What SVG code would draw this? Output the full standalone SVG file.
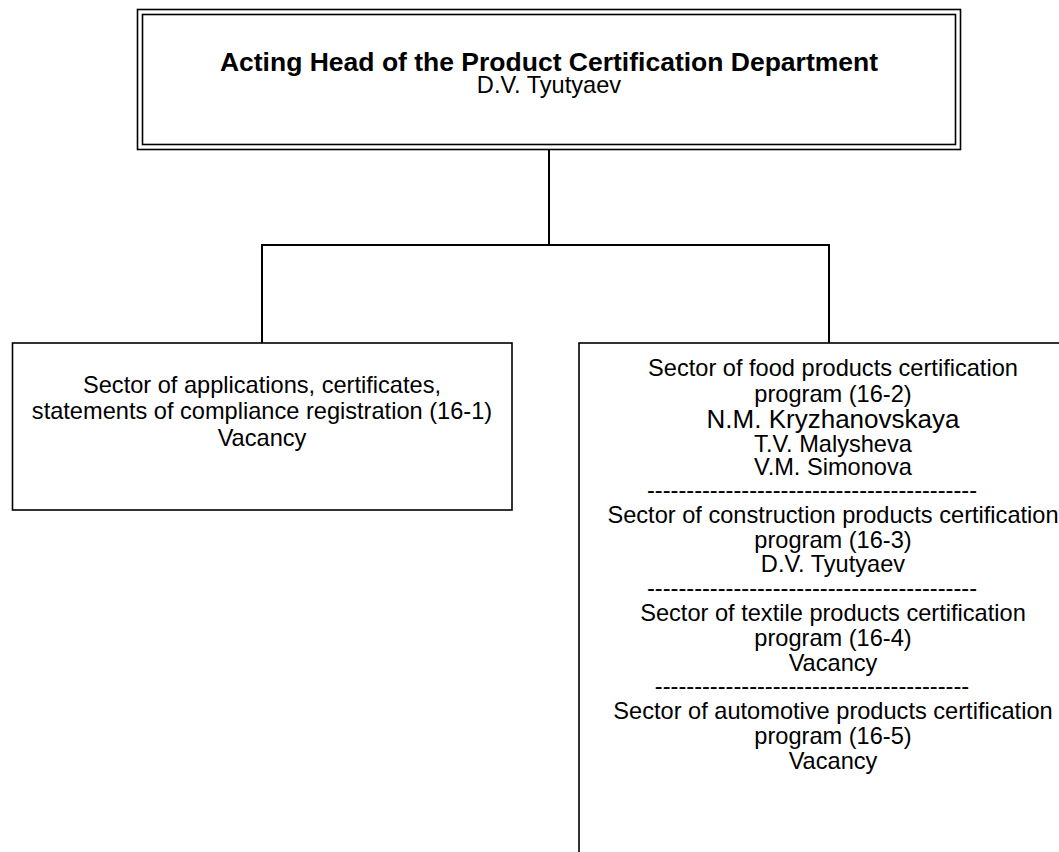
<svg xmlns="http://www.w3.org/2000/svg" width="1059" height="852" viewBox="0 0 1059 852">
<style>
.t{font-family:"Liberation Sans",Arial,sans-serif;font-size:23.6px;fill:#000;text-anchor:middle}
.b{font-weight:bold;font-size:26.5px}
.big{font-size:26px}
.box{fill:#fff;stroke:#000;stroke-width:1.6}
.con{fill:none;stroke:#000;stroke-width:2}
</style>
<rect width="1059" height="852" fill="#fff"/>
<g id="connectors">
<path class="con" d="M549,150 V245 M262,343 V245 H829 V343"/>
</g>
<g id="head">
<rect class="box" x="137.5" y="9.5" width="823" height="140"/>
<rect class="box" x="142.5" y="14.5" width="813" height="130"/>
<text class="t b" x="549" y="71">Acting Head of the Product Certification Department</text>
<text class="t" x="549" y="93">D.V. Tyutyaev</text>
</g>
<g id="sector-16-1">
<rect class="box" x="12.5" y="343" width="499.5" height="167"/>
<text class="t" x="262" y="393">Sector of applications, certificates,</text>
<text class="t" x="262" y="419">statements of compliance registration (16-1)</text>
<text class="t" x="262" y="446">Vacancy</text>
</g>
<g id="sectors-16-2-5">
<rect class="box" x="579" y="343" width="520" height="600"/>
<text class="t" x="833" y="376">Sector of food products certification</text>
<text class="t" x="833" y="402">program (16-2)</text>
<text class="t big" x="833" y="428">N.M. Kryzhanovskaya</text>
<text class="t" x="833" y="452">T.V. Malysheva</text>
<text class="t" x="833" y="475">V.M. Simonova</text>
<text class="t" x="812" y="498">------------------------------------------</text>
<text class="t" x="833" y="523">Sector of construction products certification</text>
<text class="t" x="833" y="548">program (16-3)</text>
<text class="t" x="833" y="572">D.V. Tyutyaev</text>
<text class="t" x="812" y="596">------------------------------------------</text>
<text class="t" x="833" y="621">Sector of textile products certification</text>
<text class="t" x="833" y="646">program (16-4)</text>
<text class="t" x="833" y="671">Vacancy</text>
<text class="t" x="812" y="694">----------------------------------------</text>
<text class="t" x="833" y="719">Sector of automotive products certification</text>
<text class="t" x="833" y="744">program (16-5)</text>
<text class="t" x="833" y="769">Vacancy</text>
</g>
</svg>
